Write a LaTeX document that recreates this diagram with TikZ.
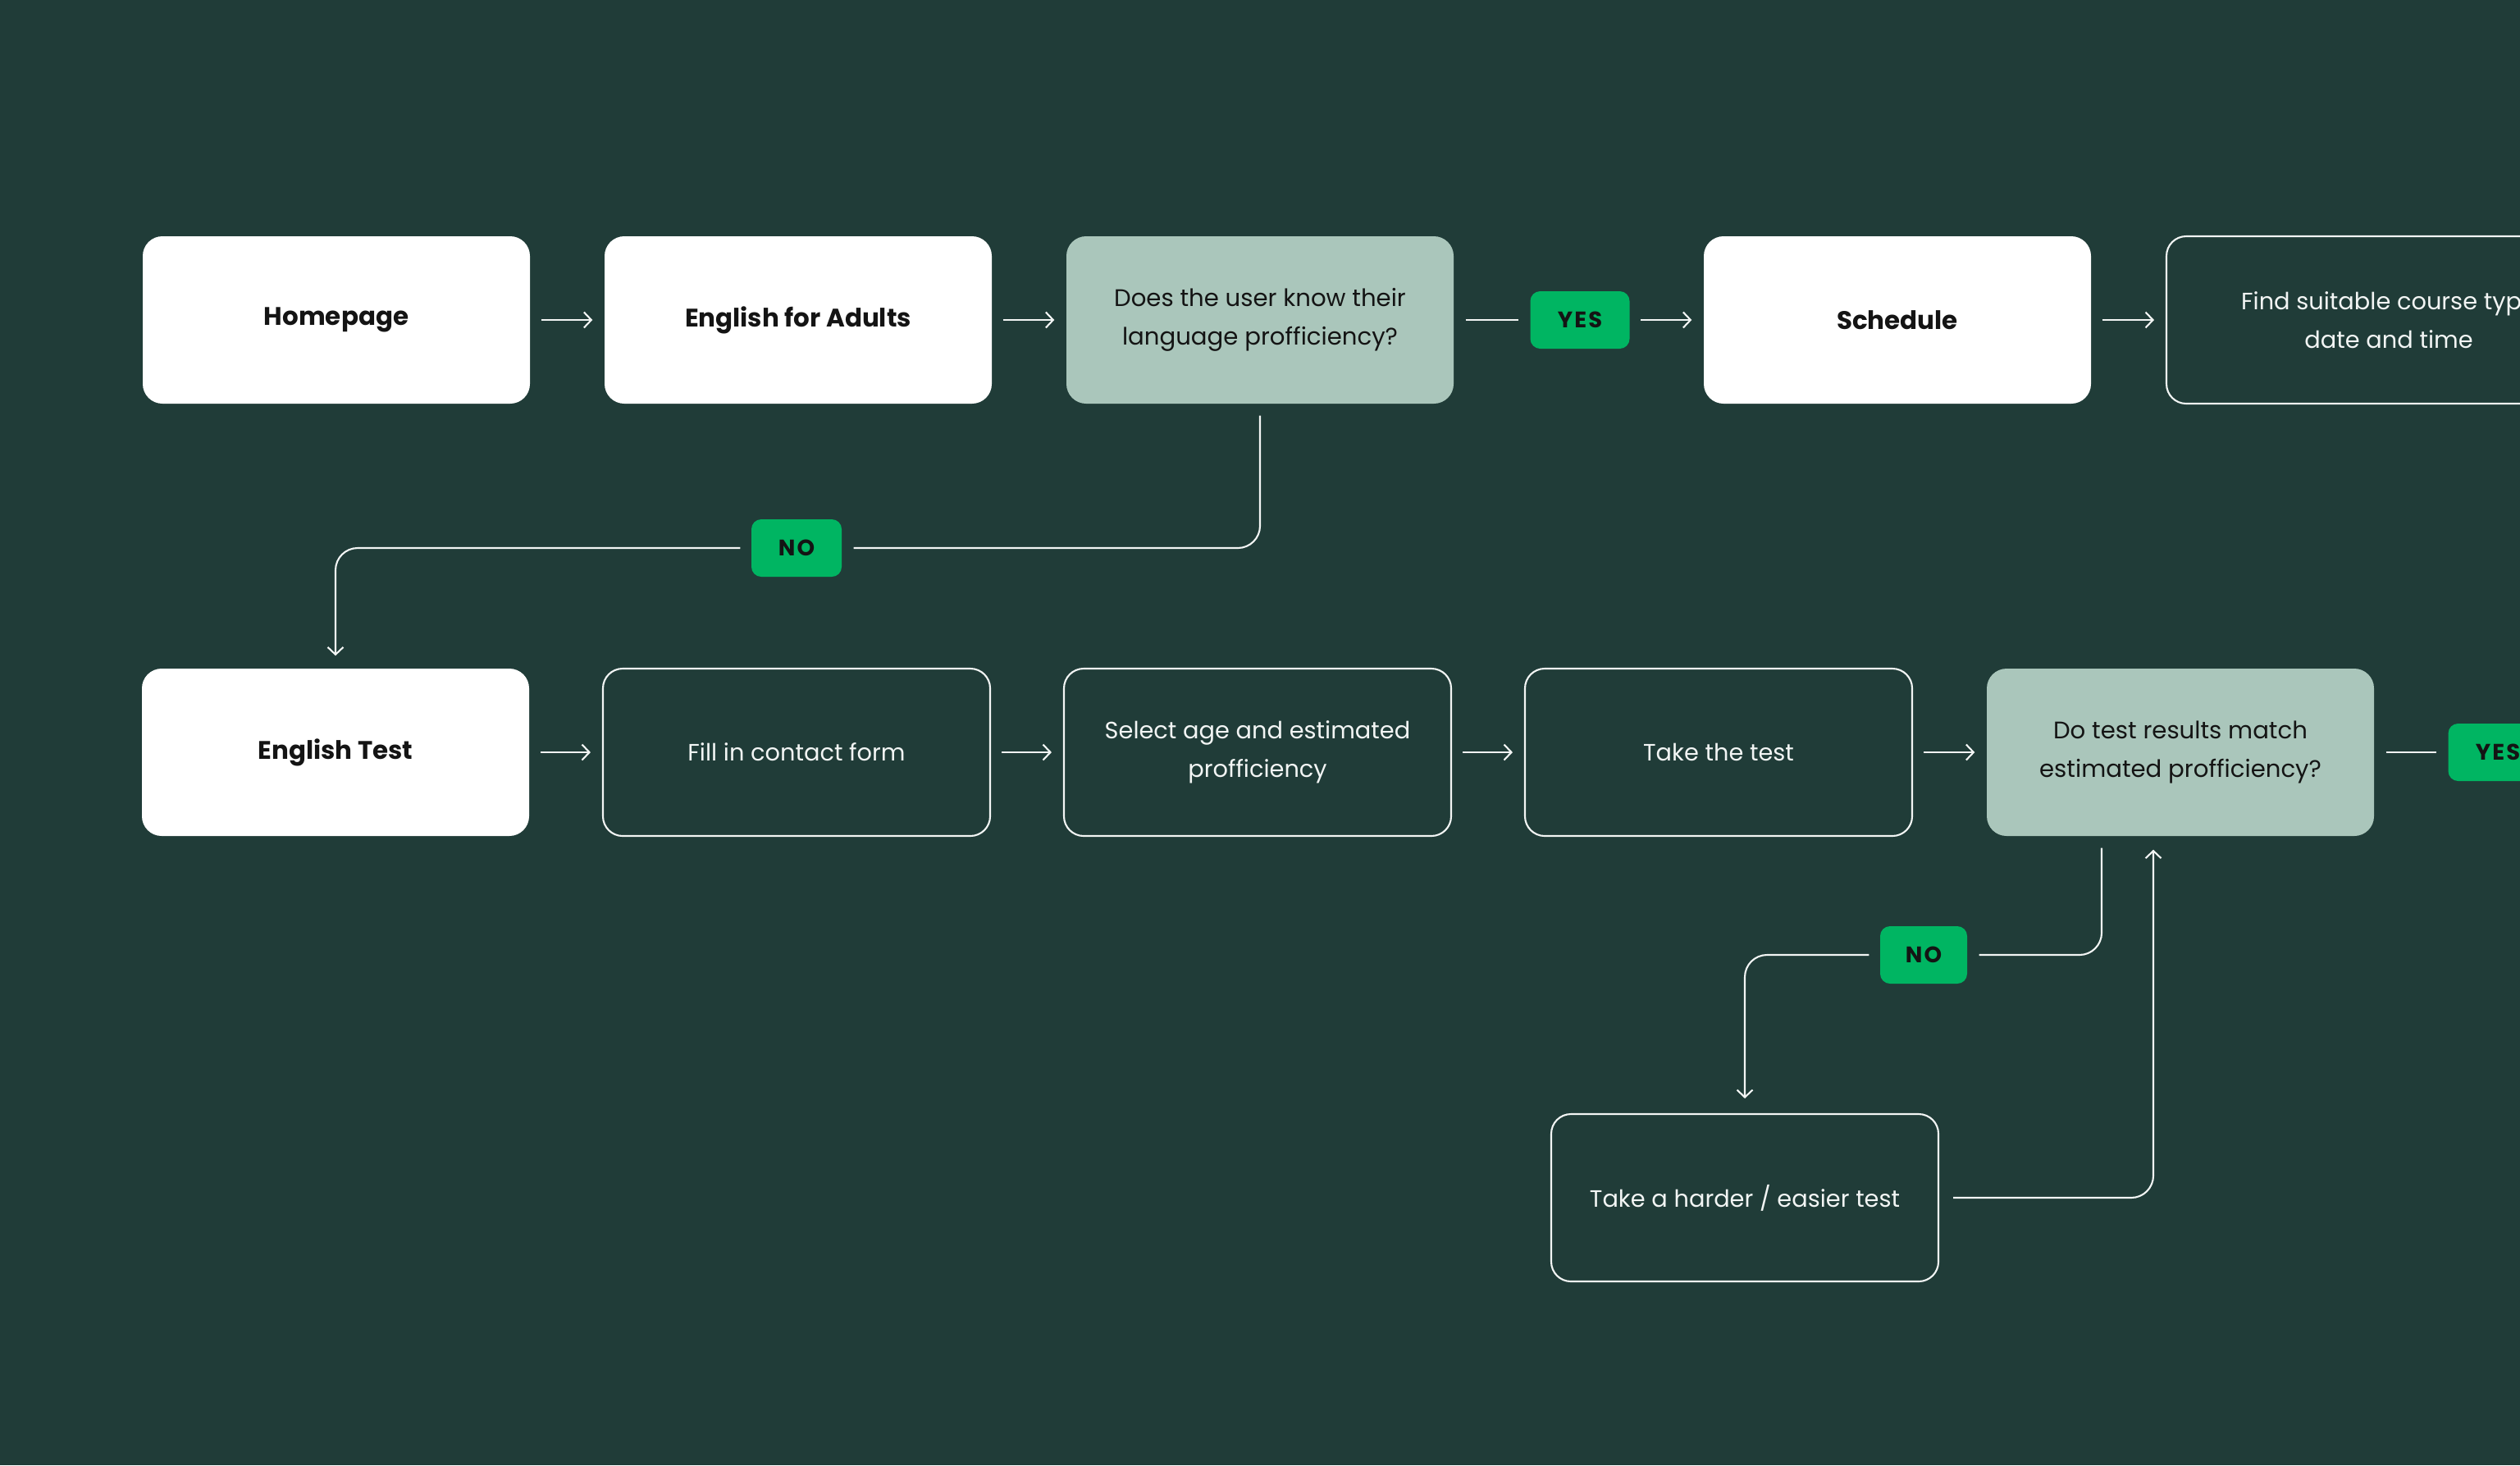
\documentclass[tikz,border=0pt]{standalone}
\usepackage{fontspec}
\setmainfont{Poppins}
\newfontfamily\tagfont{Poppins}[LetterSpace=8]
\usetikzlibrary{positioning,arrows.meta}
\definecolor{board}{HTML}{203C38}
\definecolor{sage}{HTML}{AAC6BB}
\definecolor{yes}{HTML}{00B562}
\definecolor{ink}{HTML}{141414}
\definecolor{chalk}{HTML}{F2F5F4}

\begin{document}
\begin{tikzpicture}[
  font=\fontsize{8.2}{13.4}\selectfont,
  >={Straight Barb[length=0.9mm,width=1.9mm]},
  card/.style={fill=white,rounded corners=0.24cm,minimum width=4.72cm,minimum height=2.04cm,
               align=center,inner sep=0pt,text=ink,font=\fontsize{8.8}{13.4}\selectfont\bfseries},
  ask/.style={card,fill=sage,font=\fontsize{8.3}{13.4}\selectfont},
  stepbox/.style={draw=chalk,line width=0.6pt,rounded corners=0.24cm,minimum width=4.72cm,
                  minimum height=2.04cm,align=center,inner sep=0pt,text=chalk},
  pill/.style={fill=yes,rounded corners=0.12cm,minimum height=0.70cm,inner sep=0pt,text=ink,
               font=\tagfont\fontsize{7.8}{8}\selectfont\bfseries},
  fl/.style={->,draw=chalk,line width=0.6pt,shorten <=0.13cm,shorten >=0.14cm},
  ln/.style={draw=chalk,line width=0.6pt,shorten <=0.14cm,shorten >=0.14cm},
  elbow/.style={rounded corners=0.27cm},
]

%------------------------------------------------------------ board ---
\useasboundingbox (0,0) rectangle (30.72,-17.86);
\clip (0,0) rectangle (30.72,-17.86);
\fill[board] (0,0) rectangle (30.72,-17.86);

%------------------------------------------------------------ row 1 ---
\node[card] (home) at (4.10,-3.90) {Homepage};
\node[card] (adults) at (9.73,-3.90) {English for Adults};
\node[ask] (know) at (15.36,-3.90) {Does the user know their\\language profficiency?};
\node[pill,minimum width=1.21cm] (yes1) at (19.26,-3.90) {YES};
\node[card] (sched) at (23.13,-3.90) {Schedule};
\node[stepbox,minimum width=5.42cm] (find) at (29.12,-3.90)
  {Find suitable course type\\date and time};

\draw[fl] (home) -- (adults);
\draw[fl] (adults) -- (know);
\draw[ln] (know) -- (yes1);
\draw[fl] (yes1) -- (sched);
\draw[fl] (sched) -- (find);

%------------------------------------------------------------ row 2 ---
\node[card] (etest) at (4.09,-9.17) {English Test};
\node[stepbox] (form) at (9.71,-9.17) {Fill in contact form};
\node[stepbox] (age) at (15.33,-9.17) {Select age and estimated\\profficiency};
\node[stepbox] (take) at (20.95,-9.17) {Take the test};
\node[ask] (match) at (26.58,-9.17) {Do test results match\\estimated profficiency?};
\node[pill,minimum width=1.21cm] (yes2) at (30.45,-9.17) {YES};

\foreach \a/\b in {etest/form, form/age, age/take, take/match}{
  \draw[fl] (\a) -- (\b);}
\draw[ln] (match) -- (yes2);

%----------------------------------------------------- first answer NO ---
\node[pill,minimum width=1.10cm] (no1) at (9.71,-6.68) {NO};
\draw[ln,elbow] (know.south) |- (no1.east);
\draw[fl,elbow,shorten >=0.15cm] (no1.west) -| (etest.north);

%---------------------------------------------------- second answer NO ---
\node[stepbox] (harder) at (21.27,-14.60) {Take a harder / easier test};
\node[pill,minimum width=1.06cm] (no2) at (23.45,-11.64) {NO};
\draw[ln,elbow] ([xshift=-0.96cm]match.south) |- (no2.east);
\draw[fl,elbow,shorten >=0.18cm] (no2.west) -| (harder.north);
\draw[fl,elbow,shorten <=0.17cm,shorten >=0.16cm] (harder.east) -| ([xshift=-0.33cm]match.south);

\end{tikzpicture}
\end{document}
